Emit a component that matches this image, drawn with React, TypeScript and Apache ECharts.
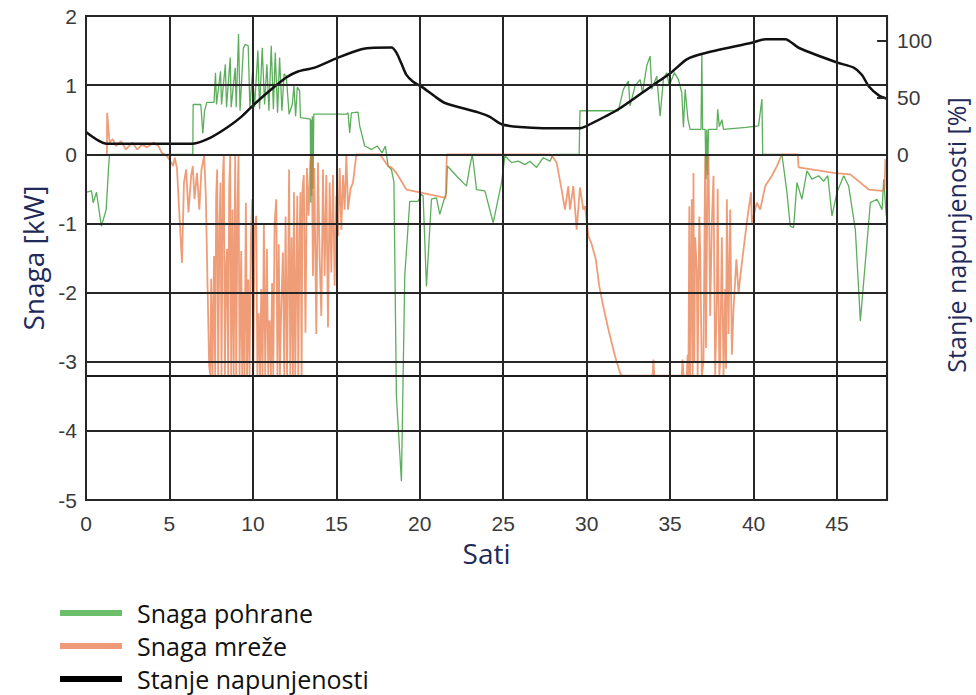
import React, { useEffect, useRef } from "react";
import * as echarts from "echarts";

// ---------------- data ----------------
const seriesNames = ["Snaga pohrane", "Snaga mreže", "Stanje napunjenosti"];
const socTickValues = [0, 50, 100];
const gridLimitKw = -3.2;

// Snaga pohrane [h, kW]
const storagePower: [number, number][] = [
  [0, -0.55], [0.33, -0.53], [0.43, -0.7], [0.63, -0.55], [0.92, -1.04], [1.21, -0.8], [1.35, -0.2], [1.41, 0],
  [6.4, 0], [6.42, 0.72], [6.88, 0.72], [7.0, 0.3], [7.1, 0.62], [7.24, 0.75], [7.67, 0.75],
  [7.76, 1.18], [7.82, 0.72], [8.06, 1.2], [8.12, 0.72], [8.35, 1.3], [8.42, 0.68], [8.64, 1.4], [8.7, 0.68],
  [8.94, 1.25], [9.0, 0.68], [9.14, 1.74], [9.23, 0.63], [9.43, 1.54], [9.55, 1.59], [9.72, 1.57], [9.82, 0.68],
  [9.98, 1.2], [10.1, 0.68], [10.3, 1.5], [10.4, 0.65], [10.56, 1.54], [10.7, 0.72], [10.84, 1.3], [10.96, 0.63],
  [11.1, 1.57], [11.23, 0.65], [11.34, 1.47], [11.48, 0.6], [11.6, 1.4], [11.74, 0.63], [11.87, 1.16], [12.0, 1.13],
  [12.17, 0.58], [12.36, 0.72], [12.46, 0.99], [12.56, 0.55], [12.66, 0.97], [12.8, 0.92], [12.85, 0.53],
  [13.44, 0.51], [13.47, -0.7], [13.5, 0.5], [13.53, -0.6], [13.56, 0.55], [13.6, -0.5], [13.65, 0.58],
  [15.6, 0.58], [15.7, 0.6], [15.8, 0.31], [15.9, 0.6], [16.3, 0.61], [16.4, 0.41], [16.7, 0.12], [17.1, 0.07],
  [17.45, 0.12], [17.74, 0.02], [17.94, 0.12], [18.1, -0.17], [18.3, -0.22], [18.45, -0.4], [18.6, -3.5],
  [18.9, -4.73], [19.1, -1.76], [19.4, -0.68], [19.9, -0.68], [20.1, -0.58], [20.2, -0.6], [20.4, -1.91],
  [20.7, -0.65], [21.0, -0.63], [21.2, -0.87], [21.4, -0.7], [21.6, -0.55], [21.65, -0.17], [22.3, -0.34],
  [22.8, -0.46], [23.0, -0.17], [23.15, 0.0], [23.4, -0.51], [23.9, -0.53], [24.4, -0.99], [24.9, -0.41],
  [25.1, -0.02], [25.5, -0.12], [25.9, -0.1], [26.3, -0.15], [26.6, -0.1], [27.0, -0.19], [27.4, -0.05],
  [27.8, -0.1], [28.0, 0], [29.55, 0], [29.6, 0.63], [31.9, 0.63], [32.2, 0.94], [32.5, 1.06], [32.6, 0.7],
  [32.9, 0.99], [33.2, 1.08], [33.35, 0.89], [33.6, 1.28], [33.8, 1.42], [33.9, 0.94], [34.2, 1.13], [34.4, 0.55],
  [34.6, 1.09], [34.8, 1.18], [34.95, 0.99], [35.25, 1.18], [35.5, 1.08], [35.7, 0.89], [35.8, 0.39], [35.9, 0.94],
  [36.07, 0.5], [36.2, 0.36], [36.85, 0.36], [36.9, 1.45], [36.95, 0.36], [37.1, 0.36], [37.15, -0.36],
  [37.2, 0.36], [37.25, -0.3], [37.3, 0.36], [37.8, 0.36], [37.85, 0.65], [37.95, 0.4], [38.1, 0.5], [38.2, 0.36],
  [39.55, 0.39], [40.3, 0.41], [40.5, 0.8], [40.55, 0], [41.7, 0], [42.0, -0.55], [42.2, -1.04], [42.4, -1.06],
  [42.6, -0.41], [42.9, -0.65], [43.2, -0.24], [43.5, -0.36], [43.9, -0.31], [44.2, -0.39], [44.45, -0.31],
  [44.7, -0.89], [45.0, -0.55], [45.4, -0.31], [45.7, -0.46], [46.1, -1.09], [46.4, -2.41], [47.0, -0.7],
  [47.4, -0.65], [47.7, -0.8], [47.8, -0.36], [47.95, -0.89],
];

// Snaga mreže [h, kW]
const gridPower: [number, number][] = [
  [1.25, 0], [1.27, 0.6], [1.41, 0.17], [1.6, 0.22], [1.8, 0.12], [2.1, 0.19], [2.39, 0.07], [2.78, 0.17],
  [3.07, 0.07], [3.36, 0.14], [3.66, 0.1], [4.05, 0.17], [4.34, 0.12], [4.54, 0.02], [4.83, -0.02], [5.12, -0.12],
  [5.22, -0.17], [5.32, -0.05], [5.45, -0.2], [5.6, -0.89], [5.75, -1.57], [5.87, -0.41], [6.0, -0.22],
  [6.14, -0.84], [6.3, -0.31], [6.4, -0.17], [6.5, -0.65], [6.65, -0.27], [6.79, -0.8], [6.92, -0.22],
  [7.08, -0.02], [7.18, -0.6], [7.28, -1.86], [7.38, -3.06],
  [7.45, -3.2], [7.5, -1.8], [7.58, -3.2], [7.67, -1.47], [7.74, -3.2], [7.8, -0.6], [7.86, -0.22], [7.92, -3.2],
  [8.0, -1.0], [8.06, -0.41], [8.12, -3.2], [8.2, -0.3], [8.26, 0], [8.32, -3.2], [8.4, -1.6], [8.45, -1.37],
  [8.52, -3.2], [8.58, -0.5], [8.64, 0], [8.7, -3.2], [8.78, -0.8], [8.85, -3.2], [8.94, 0], [9.0, -3.2],
  [9.08, -0.7], [9.14, 0], [9.2, -3.2], [9.3, -1.4], [9.36, -3.2], [9.43, -2.0], [9.5, -3.2], [9.58, -0.7],
  [9.65, -3.2], [9.72, -1.81], [9.8, -3.2], [9.88, -1.2], [9.96, -0.65], [10.02, -3.2], [10.1, -1.1],
  [10.2, -0.89], [10.27, -3.2], [10.35, -2.3], [10.43, -3.2], [10.5, -1.95], [10.58, -3.2], [10.66, -1.0],
  [10.74, -3.2], [10.84, -1.37], [10.92, -3.2], [11.0, -2.4], [11.08, -3.2], [11.15, -1.86], [11.22, -3.2],
  [11.3, -1.0], [11.4, -0.65], [11.47, -3.2], [11.55, -1.3], [11.62, -3.2], [11.7, -2.2], [11.8, -1.42],
  [11.88, -3.2], [11.96, -0.9], [12.05, -3.2], [12.12, -1.5], [12.17, -0.22], [12.24, -3.2], [12.32, -1.2],
  [12.4, -3.2], [12.46, -0.55], [12.54, -3.2], [12.6, -1.8], [12.66, -0.6], [12.72, -3.2], [12.8, -1.1],
  [12.85, -0.55], [12.92, -3.2], [12.97, -0.51],
  [13.05, -0.3], [13.15, -2.58], [13.24, -0.2], [13.34, -0.89], [13.44, -0.1], [13.53, 0], [13.6, -1.76],
  [13.68, -0.2], [13.8, -2.6], [13.9, -0.12], [14.0, -1.5], [14.1, -2.34], [14.2, -0.22], [14.3, -1.76],
  [14.4, -0.3], [14.5, -2.5], [14.6, -0.41], [14.7, -1.71], [14.8, -0.3], [14.9, -1.9], [15.0, -0.6],
  [15.1, -1.18], [15.2, -0.2], [15.3, -1.09], [15.4, -0.3], [15.5, -0.8], [15.6, 0], [15.7, -0.8], [15.85, -0.5],
  [16.0, -0.41], [16.1, -0.2], [16.2, 0], [17.6, 0], [17.9, -0.1], [18.1, -0.17], [18.3, -0.19], [18.6, -0.27],
  [19.2, -0.51], [20.0, -0.55], [21.55, -0.63], [21.62, 0], [27.8, 0], [28.0, -0.05], [28.2, -0.12],
  [28.5, -0.51], [28.7, -0.8], [28.9, -0.46], [29.0, -0.8], [29.2, -0.46], [29.4, -1.09], [29.6, -0.48],
  [29.8, -0.8], [29.9, -0.75], [30.1, -1.18], [30.3, -1.3], [30.55, -1.52], [30.75, -1.9], [30.95, -2.15],
  [31.3, -2.53], [31.7, -2.92], [32.0, -3.16], [32.1, -3.2], [33.95, -3.2], [34.0, -2.97], [34.05, -3.2],
  [35.7, -3.2], [35.75, -2.97], [35.8, -3.2], [36.0, -3.2], [36.05, -2.9], [36.1, -3.2],
  [36.15, -0.75], [36.2, -3.2], [36.3, -0.65], [36.35, -3.2], [36.4, -0.27], [36.45, -3.0], [36.5, -1.2],
  [36.6, -1.66], [36.65, -3.2], [36.75, -0.9], [36.8, -1.37], [36.9, -3.2], [37.0, -3.0], [37.1, 0],
  [37.15, -2.8], [37.25, -0.1], [37.3, 0], [37.4, -2.34], [37.5, -1.0], [37.6, -0.31], [37.7, -3.2],
  [37.8, -2.1], [37.85, -0.5], [37.95, -3.2], [38.0, -3.0], [38.1, -1.2], [38.2, -3.2], [38.3, -1.95],
  [38.35, -3.1], [38.4, -0.65], [38.5, -2.6], [38.6, -0.8], [38.7, -2.9], [38.8, -2.24], [38.97, -1.52],
  [39.1, -2.0], [39.3, -1.57], [39.5, -1.18], [39.65, -0.89], [39.85, -0.55], [39.9, -0.99], [40.0, -0.89],
  [40.2, -0.7], [40.4, -0.8], [40.7, -0.46], [41.1, -0.31], [41.4, -0.17], [41.7, 0], [42.65, 0], [42.7, -0.19],
  [44.8, -0.27], [45.8, -0.29], [46.9, -0.51], [47.7, -0.53], [47.85, -0.5], [47.9, -0.07],
];

// Stanje napunjenosti [h, %]
const stateOfCharge: [number, number][] = [
  [0, 19.7], [1.25, 9.4], [6.4, 9.4], [7.5, 15], [8.5, 24], [9.3, 33], [10.0, 43], [11, 56], [12, 67.7],
  [12.7, 73], [13.7, 76.5], [15.1, 85.3], [16.5, 92.7], [17.25, 94], [18.3, 94.1], [18.6, 89.7], [18.9, 80],
  [19.2, 70], [19.6, 64], [20.1, 59.7], [21.0, 50], [21.55, 45], [23.5, 37], [24.2, 33], [24.9, 26.5], [26, 24],
  [27.4, 23], [29.6, 23], [30.2, 26.5], [31.9, 39.7], [33.9, 60.3], [35.05, 72], [36.0, 83.8], [37.0, 88.9],
  [39.95, 98.6], [40.7, 101.5], [41.9, 101.5], [42.7, 94], [45, 81], [46, 76.5], [46.5, 70], [46.9, 60],
  [47.5, 52], [48, 49],
];

// ---------------- styles ----------------
const GRID_COLOR = "#262626";
const LABEL_COLOR = "#3a3a3a";
const NAME_COLOR = "#1f2a5a";
const NAME_FONT = "'Open Sans', 'Noto Sans', sans-serif";
const NUM_FONT = "'Liberation Sans', Arial, sans-serif";

export default function App() {
  const ref = useRef<HTMLDivElement | null>(null);

  useEffect(() => {
    document.body.style.margin = "0";
    if (!ref.current) return;
    const chart = echarts.init(ref.current, null, { renderer: "svg" });

    const splitLine = { show: true, lineStyle: { color: GRID_COLOR, width: 2 } };

    chart.setOption({
      animation: false,
      backgroundColor: "#ffffff",
      grid: {
        left: 86,
        top: 16,
        right: 69,
        bottom: 195,
        show: true,
        z: 6,
        borderColor: GRID_COLOR,
        borderWidth: 2,
        backgroundColor: "transparent",
      },
      legend: {
        orient: "vertical",
        left: 60,
        top: 598,
        padding: 0,
        icon: "rect",
        itemWidth: 62,
        itemHeight: 6,
        itemGap: 3,
        textStyle: {
          fontFamily: NAME_FONT,
          fontSize: 25,
          color: "#111111",
          lineHeight: 30,
          padding: [0, 0, 0, 10],
        },
        data: [
          { name: seriesNames[0], itemStyle: { color: "#6cbf6a" } },
          { name: seriesNames[1], itemStyle: { color: "#ee9a78" } },
          { name: seriesNames[2], itemStyle: { color: "#000000" } },
        ],
      },
      xAxis: {
        type: "value",
        min: 0,
        max: 48,
        interval: 5,
        z: 6,
        name: "Sati",
        nameLocation: "middle",
        nameGap: 39,
        nameTextStyle: { fontFamily: NAME_FONT, fontSize: 28, color: NAME_COLOR },
        axisLine: { show: false },
        axisTick: { show: false },
        axisLabel: { fontFamily: NUM_FONT, fontSize: 21, color: LABEL_COLOR, margin: 13, showMaxLabel: false },
        splitLine,
      },
      yAxis: [
        {
          type: "value",
          position: "left",
          min: -5,
          max: 2,
          interval: 1,
          z: 6,
          name: "Snaga [kW]",
          nameLocation: "middle",
          nameRotate: 90,
          nameGap: 39,
          nameTextStyle: { fontFamily: NAME_FONT, fontSize: 28, color: NAME_COLOR },
          axisLine: { show: false },
          axisTick: { show: false },
          axisLabel: { fontFamily: NUM_FONT, fontSize: 21, color: LABEL_COLOR, margin: 9 },
          splitLine,
        },
        {
          type: "value",
          position: "right",
          min: -305,
          max: 122,
          z: 6,
          name: "Stanje napunjenosti [%]",
          nameLocation: "middle",
          nameRotate: 90,
          nameGap: 40,
          nameTextStyle: {
            fontFamily: NAME_FONT,
            fontSize: 25,
            color: NAME_COLOR,
            padding: [0, 0, 0, 46],
          },
          axisLine: { show: false },
          axisTick: {
            show: true,
            inside: true,
            length: 10,
            customValues: socTickValues,
            lineStyle: { color: GRID_COLOR, width: 2 },
          },
          axisLabel: {
            fontFamily: NUM_FONT,
            fontSize: 21,
            color: LABEL_COLOR,
            margin: 10,
            customValues: socTickValues,
          },
          splitLine: { show: false },
        },
      ],
      series: [
        {
          name: seriesNames[0],
          type: "line",
          yAxisIndex: 0,
          z: 1,
          data: storagePower,
          showSymbol: false,
          symbol: "none",
          color: "#6cbf6a",
          lineStyle: { color: "#3f9f3f", width: 1.3, opacity: 0.85 },
          markLine: {
            silent: true,
            symbol: "none",
            label: { show: false },
            lineStyle: { color: "#1a1a1a", width: 2, type: "solid" },
            data: [{ yAxis: gridLimitKw }],
          },
        },
        {
          name: seriesNames[1],
          type: "line",
          yAxisIndex: 0,
          z: 1,
          data: gridPower,
          showSymbol: false,
          symbol: "none",
          color: "#ee9a78",
          lineStyle: { color: "#e8743f", width: 1.8, opacity: 0.7 },
        },
        {
          name: seriesNames[2],
          type: "line",
          yAxisIndex: 1,
          z: 1,
          data: stateOfCharge,
          showSymbol: false,
          symbol: "none",
          smooth: 0.25,
          color: "#000000",
          lineStyle: { color: "#111111", width: 2.5 },
        },
      ],
    });

    return () => chart.dispose();
  }, []);

  return <div ref={ref} style={{ width: 976, height: 695 }} />;
}
